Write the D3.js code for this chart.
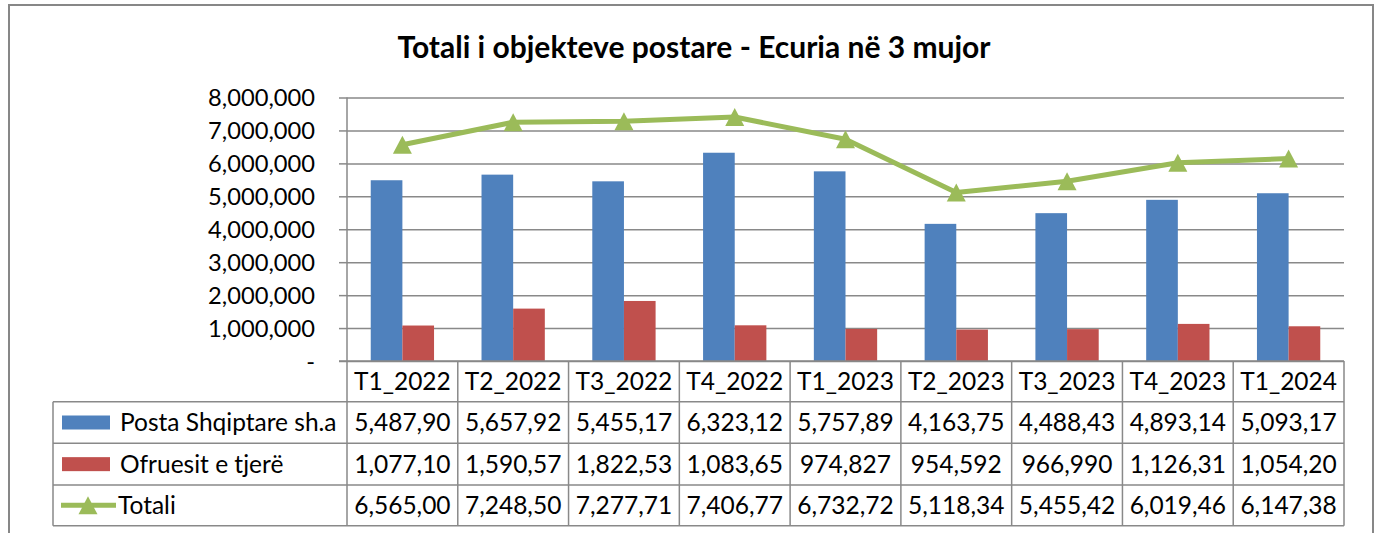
<!DOCTYPE html>
<html>

<head>
  <meta charset='utf-8'>
  <style>
    body { margin: 0; background: #fff; }
    text { font-family: Lato, "Open Sans", sans-serif; fill: #000; }
  </style>
  <script type="text/javascript" src="https://cdn.jsdelivr.net/npm/d3@7"></script>
</head>

<body>

  <script type='module'>
    const categories = ["T1_2022", "T2_2022", "T3_2022", "T4_2022", "T1_2023", "T2_2023", "T3_2023", "T4_2023", "T1_2024"]
    const postaShqiptare = [5487900, 5657920, 5455170, 6323120, 5757890, 4163750, 4488430, 4893140, 5093170]
    const ofruesitTjere = [1077100, 1590570, 1822530, 1083650, 974827, 954592, 966990, 1126310, 1054200]
    const totali = [6565000, 7248500, 7277710, 7406770, 6732720, 5118340, 5455420, 6019460, 6147380]
    const seriesNames = ["Posta Shqiptare sh.a", "Ofruesit e tjerë", "Totali"]
    const yTicks = [0, 1000000, 2000000, 3000000, 4000000, 5000000, 6000000, 7000000, 8000000]
    const title = "Totali i objekteve postare - Ecuria në 3 mujor"

    const colors = ["#4F81BD", "#C0504D", "#9BBB59"]
    const gridColor = "#898989"
    const tableFont = 24.5

    let [width, height] = [1379, 533]
    const svg = d3.select("body").append("svg")
      .attr("width", width).attr("height", height)
      .attr("viewBox", [0, 0, width, height]);

    // outer frame (bottom edge runs past the picture)
    svg.append("rect")
      .attr("x", 9).attr("y", 5).attr("width", 1364).attr("height", 560)
      .attr("fill", "none").attr("stroke", "#878787").attr("stroke-width", 2);

    svg.append("text")
      .attr("x", 694).attr("y", 58)
      .attr("text-anchor", "middle")
      .attr("font-weight", "bold").attr("font-size", 30)
      .text(title);

    const [left, right, top, bottom] = [347, 1344, 97.5, 361]
    const x = d3.scaleBand().domain(categories).range([left, right]);
    const x1 = d3.scaleBand().domain([0, 1]).range([0, x.bandwidth()]).paddingOuter(0.75);
    const y = d3.scaleLinear().domain([0, 8000000]).range([bottom, top]);

    // gridlines + y labels
    const yAxis = d3.axisLeft(y).tickValues(yTicks).tickSize(8)
      .tickFormat(d => d === 0 ? "-" : d3.format(",")(d));
    const gy = svg.append("g").attr("transform", `translate(${left},0)`).call(yAxis);
    gy.select(".domain").remove();
    gy.selectAll(".tick line").clone().attr("x2", right - left);
    gy.selectAll(".tick line").attr("stroke", gridColor).attr("stroke-width", 1.5);
    gy.selectAll(".tick text")
      .attr("x", -32).attr("dy", "0.35em")
      .attr("font-size", 23.7).attr("font-family", "Lato").attr("fill", "#000");

    // bars
    const barData = categories.map((c, i) => [postaShqiptare[i], ofruesitTjere[i]].map((v, k) => ({ c, k, v })));
    svg.append("g")
      .selectAll("g")
      .data(barData)
      .join("g")
      .attr("transform", d => `translate(${x(d[0].c)},0)`)
      .selectAll("rect")
      .data(d => d)
      .join("rect")
      .attr("x", d => x1(d.k))
      .attr("width", x1.bandwidth())
      .attr("y", d => y(d.v))
      .attr("height", d => y(0) - y(d.v))
      .attr("fill", d => colors[d.k]);

    // total line with triangle markers
    const tri = (w, h) => `M0,${-h / 2}L${w / 2},${h / 2}L${-w / 2},${h / 2}Z`
    const cx = c => x(c) + x.bandwidth() / 2
    svg.append("path")
      .datum(totali)
      .attr("fill", "none")
      .attr("stroke", colors[2])
      .attr("stroke-width", 5)
      .attr("stroke-linejoin", "round")
      .attr("d", d3.line().x((d, i) => cx(categories[i])).y(d => y(d)));
    svg.append("g")
      .selectAll("path")
      .data(totali)
      .join("path")
      .attr("transform", (d, i) => `translate(${cx(categories[i])},${y(d)})`)
      .attr("d", tri(19, 18))
      .attr("fill", colors[2]);

    // data table
    const rowsY = [bottom, 401.7, 443.3, 485, 525.7]
    const legendLeft = 53
    const table = svg.append("g")
      .attr("stroke", gridColor).attr("stroke-width", 1.5);
    table.append("line").attr("x1", left - 8).attr("x2", right).attr("y1", bottom).attr("y2", bottom);
    rowsY.slice(1).forEach(yy => table.append("line")
      .attr("x1", legendLeft).attr("x2", right).attr("y1", yy).attr("y2", yy));
    table.append("line").attr("x1", left).attr("x2", left).attr("y1", top).attr("y2", rowsY[4]);
    table.selectAll(".col")
      .data(categories)
      .join("line")
      .attr("x1", d => x(d) + x.bandwidth()).attr("x2", d => x(d) + x.bandwidth())
      .attr("y1", bottom).attr("y2", rowsY[4]);
    table.append("line").attr("x1", legendLeft).attr("x2", legendLeft).attr("y1", rowsY[1]).attr("y2", rowsY[4]);

    const midY = i => (rowsY[i] + rowsY[i + 1]) / 2
    svg.append("g")
      .selectAll("text")
      .data(categories)
      .join("text")
      .attr("x", cx).attr("y", midY(0)).attr("dy", "0.35em")
      .attr("text-anchor", "middle").attr("font-size", tableFont)
      .text(d => d);

    // cell values as Excel shows them, cut off at the cell width
    const cellFmt = v => d3.format(",")(v).slice(0, 8)
    const seriesValues = [postaShqiptare, ofruesitTjere, totali]
    seriesValues.forEach((vals, r) => {
      svg.append("g")
        .selectAll("text")
        .data(vals)
        .join("text")
        .attr("x", (d, i) => cx(categories[i])).attr("y", midY(r + 1)).attr("dy", "0.35em")
        .attr("text-anchor", "middle").attr("font-size", tableFont)
        .text(cellFmt);
    });

    // legend keys
    const leg = svg.append("g")
    seriesNames.forEach((name, r) => {
      const my = midY(r + 1)
      if (r < 2) {
        leg.append("rect").attr("x", 62).attr("y", my - 7).attr("width", 48).attr("height", 14).attr("fill", colors[r]);
      } else {
        leg.append("line").attr("x1", 61).attr("x2", 116).attr("y1", my).attr("y2", my)
          .attr("stroke", colors[2]).attr("stroke-width", 5);
        leg.append("path").attr("transform", `translate(88,${my})`).attr("d", tri(19, 18)).attr("fill", colors[2]);
      }
      leg.append("text").attr("x", r < 2 ? 120 : 118).attr("y", my).attr("dy", "0.35em")
        .attr("font-size", tableFont).text(name);
    });
  </script>
</body>

</html>
